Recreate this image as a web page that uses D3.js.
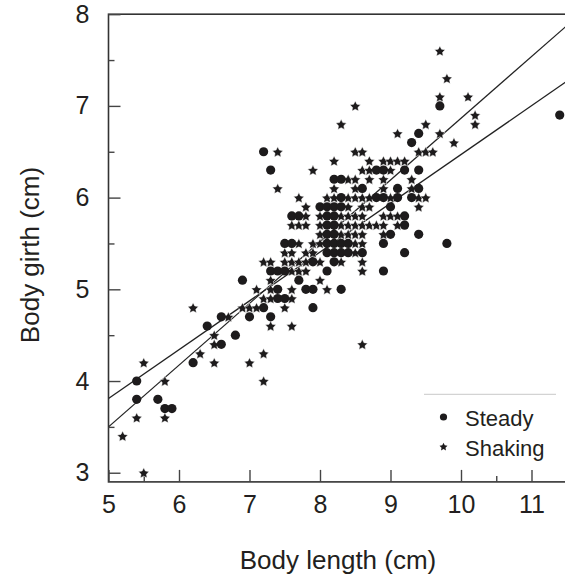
<!DOCTYPE html>
<html><head><meta charset="utf-8">
<script src="https://cdn.jsdelivr.net/npm/d3@7"></script>
<style>body{margin:0;background:#fff}svg{display:block}text{font-family:"Liberation Sans",Arial,Helvetica,sans-serif;fill:#231f20}</style>
</head><body><svg id="c" width="565" height="576"></svg>
<script>
// Steady (circles): [body length, body girth]
const steady = [
[9.7,7.0],[11.4,6.9],[9.4,6.7],[9.3,6.6],[7.2,6.5],
[7.3,6.3],[8.8,6.3],[8.9,6.3],[9.2,6.3],[9.4,6.3],
[8.2,6.2],[8.3,6.2],
[8.6,6.1],[9.1,6.1],[9.4,6.1],
[8.3,6.0],[8.8,6.0],[8.9,6.0],[9.1,6.0],[9.3,6.0],
[8.0,5.9],[8.1,5.9],[8.2,5.9],[8.3,5.9],[9.0,5.9],
[7.6,5.8],[7.7,5.8],[8.1,5.8],[8.2,5.8],[9.2,5.8],
[8.1,5.7],[8.2,5.7],[9.2,5.7],
[8.1,5.6],[8.2,5.6],[9.0,5.6],[9.4,5.6],
[7.5,5.5],[7.6,5.5],[8.1,5.5],[8.2,5.5],[8.3,5.5],[8.4,5.5],[8.9,5.5],[9.8,5.5],
[8.1,5.4],[8.2,5.4],[8.3,5.4],[8.4,5.4],[8.6,5.4],[9.2,5.4],
[7.9,5.3],[8.2,5.3],
[7.3,5.2],[7.4,5.2],[7.5,5.2],[8.1,5.2],[8.9,5.2],
[6.9,5.1],[7.7,5.1],
[7.4,5.0],[7.8,5.0],[7.9,5.0],[8.3,5.0],
[7.4,4.9],[7.5,4.9],
[7.2,4.8],[7.9,4.8],
[6.6,4.7],[7.0,4.7],[7.3,4.7],
[6.4,4.6],[6.8,4.5],[6.6,4.4],[6.2,4.2],[5.4,4.0],
[5.4,3.8],[5.7,3.8],[5.8,3.7],[5.9,3.7]
];
// Shaking (stars)
const shaking = [
[9.7,7.6],[9.8,7.3],[9.7,7.1],[10.1,7.1],[8.5,7.0],[10.2,6.9],
[8.3,6.8],[9.5,6.8],[10.2,6.8],
[9.1,6.7],[9.7,6.7],[9.9,6.6],
[7.4,6.5],[8.5,6.5],[8.6,6.5],[9.4,6.5],[9.5,6.5],[9.6,6.5],
[8.2,6.4],[8.7,6.4],[8.9,6.4],[9.0,6.4],[9.1,6.4],[9.2,6.4],
[7.9,6.3],[8.6,6.3],[8.7,6.3],[9.0,6.3],
[8.4,6.2],[8.5,6.2],[8.7,6.2],[8.9,6.2],[9.3,6.2],
[7.4,6.1],[8.2,6.1],[8.5,6.1],[8.9,6.1],[9.3,6.1],
[7.7,6.0],[8.1,6.0],[8.2,6.0],[8.4,6.0],[8.5,6.0],[8.6,6.0],[8.7,6.0],[9.0,6.0],[9.4,6.0],[9.5,6.0],
[7.8,5.9],[8.4,5.9],[8.6,5.9],[8.7,5.9],[9.4,5.9],
[7.8,5.8],[8.0,5.8],[8.3,5.8],[8.4,5.8],[8.5,5.8],[8.6,5.8],[8.9,5.8],[9.0,5.8],[9.1,5.8],
[7.6,5.7],[7.7,5.7],[7.8,5.7],[8.0,5.7],[8.3,5.7],[8.4,5.7],[8.5,5.7],[8.6,5.7],[8.7,5.7],[8.8,5.7],[8.9,5.7],[9.1,5.7],
[8.0,5.6],[8.3,5.6],[8.4,5.6],[8.5,5.6],[8.6,5.6],[8.9,5.6],
[7.7,5.5],[7.9,5.5],[8.0,5.5],[8.5,5.5],[8.6,5.5],
[7.5,5.4],[7.6,5.4],[7.8,5.4],[7.9,5.4],[8.5,5.4],
[7.2,5.3],[7.3,5.3],[7.5,5.3],[7.6,5.3],[7.7,5.3],[7.8,5.3],[8.0,5.3],[8.3,5.3],[8.6,5.3],
[7.6,5.2],[7.7,5.2],[7.8,5.2],[8.6,5.2],
[7.3,5.1],[8.0,5.1],
[7.1,5.0],[7.3,5.0],[7.6,5.0],[8.1,5.0],
[7.2,4.9],[7.3,4.9],[7.6,4.9],
[6.2,4.8],[6.9,4.8],[7.0,4.8],[7.1,4.8],[7.5,4.8],
[6.7,4.7],[7.3,4.6],[7.6,4.6],[6.5,4.5],[6.5,4.4],[8.6,4.4],
[6.3,4.3],[7.2,4.3],[5.5,4.2],[6.5,4.2],[7.0,4.2],
[5.8,4.0],[7.2,4.0],[5.4,3.6],[5.8,3.6],[5.2,3.4],[5.5,3.0]
];
// Regression lines: [intercept at x=5, slope]
const fitNames = ["steep","shallow"];
const fitIntercepts = [3.50, 3.81];
const fitSlopes = [0.673, 0.532];

const xTicks = [5,6,7,8,9,10,11];
const xMinor = [5.5,10.5];
const yTicks = [3,4,5,6,7,8];
const yMinor = [3.5,4.5,5.5,6.5,7.5];
const legendLabels = ["Steady","Shaking"];

const svg = d3.select("#c");
const x = d3.scaleLinear().domain([5,11.5]).range([108.5,566.75]);
const y = d3.scaleLinear().domain([2.9,8]).range([481.9,14.2]);
const ink = "#1d1b1c";

// fat five-point star marker
function starPath(R, ratio){
  const pts = d3.range(10).map(i=>{
    const r = i%2 ? R*ratio : R;
    const a = -Math.PI/2 + i*Math.PI/5;
    return [r*Math.cos(a), r*Math.sin(a)];
  });
  return "M" + pts.map(p=>p[0].toFixed(2)+","+p[1].toFixed(2)).join("L") + "Z";
}

svg.append("defs").append("clipPath").attr("id","clip")
  .append("rect").attr("x",108.5).attr("y",14.2).attr("width",458.25).attr("height",467.7);

// frame
svg.append("rect").attr("x",108.5).attr("y",14.2).attr("width",458.25).attr("height",467.7)
  .attr("fill","none").attr("stroke","#333").attr("stroke-width",1.6);

// axes with inward ticks
const gx = svg.append("g").attr("transform","translate(0,481.9)")
  .call(d3.axisBottom(x).tickValues(xTicks).tickSize(-12).tickPadding(26).tickFormat(d3.format("d")));
svg.append("g").attr("transform","translate(0,481.9)")
  .call(d3.axisBottom(x).tickValues(xMinor).tickSize(-6).tickFormat(""));
const gy = svg.append("g").attr("transform","translate(108.5,0)")
  .call(d3.axisLeft(y).tickValues(yTicks).tickSize(-12).tickPadding(19).tickFormat(d3.format("d")));
svg.append("g").attr("transform","translate(108.5,0)")
  .call(d3.axisLeft(y).tickValues(yMinor).tickSize(-6).tickFormat(""));
svg.selectAll(".domain").remove();
svg.selectAll(".tick line").attr("stroke","#444").attr("stroke-width",1.4);
gx.selectAll(".tick text").attr("font-size",25).attr("fill","#231f20").attr("dy","0.2em");
gy.selectAll(".tick text").attr("font-size",25).attr("fill","#231f20");

// titles
svg.append("text").attr("x",338).attr("y",569).attr("text-anchor","middle")
  .attr("font-size",26).text("Body length (cm)");
svg.append("text").attr("transform","translate(39,255) rotate(-90)").attr("text-anchor","middle")
  .attr("font-size",26).text("Body girth (cm)");

const plot = svg.append("g").attr("clip-path","url(#clip)");

// regression lines
const xs = [5, 11.5];
fitNames.forEach((n,i)=>{
  plot.append("path")
    .datum(xs.map(v=>[v, fitIntercepts[i] + fitSlopes[i]*(v-5)]))
    .attr("d", d3.line().x(d=>x(d[0])).y(d=>y(d[1])))
    .attr("fill","none").attr("stroke","#222").attr("stroke-width",1.3);
});

// points
const starD = starPath(5.6, 0.5);
plot.selectAll("path.shk").data(shaking).join("path").attr("class","shk")
  .attr("d", starD).attr("transform", d=>`translate(${x(d[0])},${y(d[1]) + 0.6})`)
  .attr("fill", ink).attr("stroke","#fff").attr("stroke-width",0.5);
plot.selectAll("circle.std").data(steady).join("circle").attr("class","std")
  .attr("cx", d=>x(d[0])).attr("cy", d=>y(d[1])).attr("r",4.6).attr("fill", ink);

// legend
svg.append("line").attr("x1",424).attr("x2",556).attr("y1",394.3).attr("y2",394.3)
  .attr("stroke","#c8c8c8").attr("stroke-width",1);
const lg = svg.append("g");
lg.append("circle").attr("cx",443.5).attr("cy",417).attr("r",3.6).attr("fill",ink);
lg.append("path").attr("d", starPath(4.2, 0.5))
  .attr("transform","translate(443.5,447)").attr("fill",ink);
legendLabels.forEach((t,i)=>{
  lg.append("text").attr("x",465).attr("y",425.5 + i*30.5).attr("font-size",22).text(t);
});
</script></body></html>
